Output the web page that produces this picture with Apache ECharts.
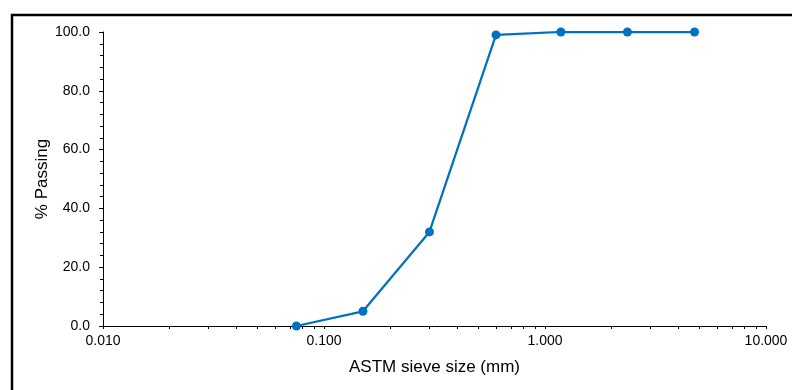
<!DOCTYPE html>
<html><head><meta charset="utf-8">
<script src="https://cdn.jsdelivr.net/npm/echarts@6/dist/echarts.min.js"></script>
<style>html,body{margin:0;padding:0;background:#fff}#c{width:792px;height:390px}</style>
</head><body><div id="c"></div>
<script>
var sieveSizes = [0.075, 0.15, 0.3, 0.6, 1.18, 2.36, 4.75];
var percentPassing = [0, 5, 32, 99, 100, 100, 100];
var xTitle = 'ASTM sieve size (mm)';
var yTitle = '% Passing';

var tickVals = [];
[0.01, 0.1, 1].forEach(function (d) {
  for (var k = 1; k <= 9; k++) tickVals.push(+(d * k).toFixed(4));
});
tickVals.push(10);

var chart = echarts.init(document.getElementById('c'));
var font = 'Liberation Sans, Arial, sans-serif';
chart.setOption({
  animation: false,
  graphic: [{
    type: 'polyline',
    shape: { points: [[12, 400], [12, 15], [800, 15]] },
    style: { stroke: '#000', lineWidth: 2.5, fill: null }
  }],
  grid: { left: 103, right: 26, top: 32, bottom: 64 },
  xAxis: {
    type: 'log', logBase: 10, min: 0.01, max: 10,
    name: xTitle, nameLocation: 'middle', nameGap: 33,
    nameTextStyle: { fontFamily: font, fontSize: 17, color: '#000' },
    axisLine: { lineStyle: { color: '#000', width: 1 } },
    axisTick: { show: true, length: 3, lineStyle: { color: '#000' }, customValues: tickVals },
    axisLabel: { fontFamily: font, fontSize: 14, color: '#000', margin: 8,
      formatter: function (v) { return (+v).toFixed(3); } },
    splitLine: { show: false }, minorTick: { show: false }
  },
  yAxis: {
    type: 'value', min: 0, max: 100, interval: 20,
    name: yTitle, nameLocation: 'middle', nameGap: 52, nameRotate: 90,
    nameMoveOverlap: false,
    nameTextStyle: { fontFamily: font, fontSize: 17, color: '#000' },
    axisLine: { show: true, lineStyle: { color: '#000', width: 1 } },
    axisTick: { show: true, length: 4, lineStyle: { color: '#000' } },
    minorTick: { show: true, splitNumber: 5, length: 3, lineStyle: { color: '#000' } },
    axisLabel: { fontFamily: font, fontSize: 14, color: '#000', margin: 13,
      formatter: function (v) { return v.toFixed(1); } },
    splitLine: { show: false }
  },
  series: [{
    type: 'line',
    data: sieveSizes.map(function (s, i) { return [s, percentPassing[i]]; }),
    symbol: 'circle', symbolSize: 9,
    lineStyle: { color: '#0070C0', width: 2.25 },
    itemStyle: { color: '#0070C0' }
  }]
});
</script></body></html>
